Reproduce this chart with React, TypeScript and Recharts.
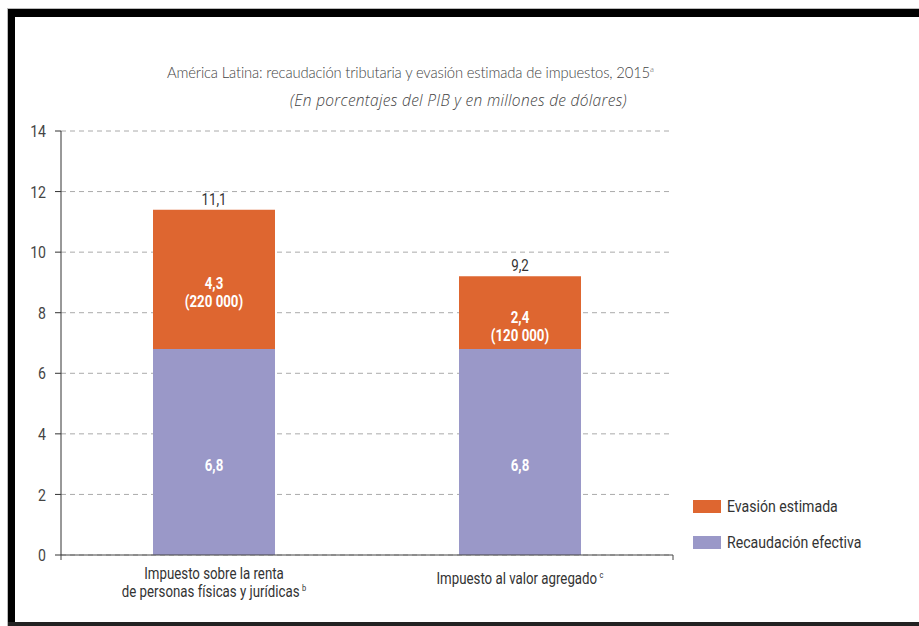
import React from 'react';
import { BarChart, Bar, XAxis, YAxis, CartesianGrid, LabelList } from 'recharts';

const categories = ['renta', 'iva'];
const categoryLine1 = ['Impuesto sobre la renta', 'Impuesto al valor agregado'];
const categoryLine2 = ['de personas físicas y jurídicas', ''];
const categoryNote = ['b', 'c'];

const recaudacion = [6.8, 6.8];
const evasion = [4.6, 2.4];
const recaudacionLabels = ['6,8', '6,8'];
const evasionLabels = ['4,3', '2,4'];
const evasionMillones = ['(220 000)', '(120 000)'];
const totalLabels = ['11,1', '9,2'];

const yTicks = [0, 2, 4, 6, 8, 10, 12, 14];
const edgeTicks = [0, 1, 2];

const seriesNames = ['Evasión estimada', 'Recaudación efectiva'];
const ORANGE = '#DE6630';
const PURPLE = '#9A98C8';
const NARROW = 'Roboto, "Liberation Sans", sans-serif';
const SQUEEZE = 0.83;

const data = categories.map((c, i) => ({
  name: c,
  recaudacion: recaudacion[i],
  evasion: evasion[i],
}));

// texto "condensado": Roboto comprimido en horizontal
const Narrow = ({ x, y, children, ...rest }: any) => (
  <g transform={`translate(${x},${y})`}>
    <text transform={`scale(${SQUEEZE},1)`} fontFamily={NARROW} {...rest}>{children}</text>
  </g>
);

const YTick = (props: any) => {
  const { x, y, payload } = props;
  return <Narrow x={x} y={y} textAnchor="end" dy="0.36em" fontSize={17} fill="#444">{payload.value}</Narrow>;
};

const BaseLabel = (props: any) => {
  const { x, y, width, height, index } = props;
  const cx = x + width / 2;
  const base = y + height;
  const twoLines = categoryLine2[index] !== '';
  return (
    <g>
      <Narrow x={cx} y={y + height / 2 + 19} textAnchor="middle" fill="#fff" fontWeight="bold" fontSize={16}>
        {recaudacionLabels[index]}
      </Narrow>
      {twoLines ? (
        <Narrow x={cx} y={base} textAnchor="middle" fontSize={16} fill="#333">
          <tspan x={0} dy={24}>{categoryLine1[index]}</tspan>
          <tspan x={0} dy={18}>{categoryLine2[index]}</tspan>
          <tspan fontSize={9} dx={3} dy={-6}>{categoryNote[index]}</tspan>
        </Narrow>
      ) : (
        <Narrow x={cx} y={base} textAnchor="middle" fontSize={16} fill="#333">
          <tspan x={0} dy={29}>{categoryLine1[index]}</tspan>
          <tspan fontSize={9} dx={3} dy={-6}>{categoryNote[index]}</tspan>
        </Narrow>
      )}
    </g>
  );
};

const TopLabel = (props: any) => {
  const { x, y, width, height, index } = props;
  const cx = x + width / 2;
  const cy = y + height / 2;
  return (
    <g>
      <Narrow x={cx} y={cy + 10} textAnchor="middle" fill="#fff" fontWeight="bold" fontSize={16}>
        {evasionLabels[index]}
      </Narrow>
      <Narrow x={cx} y={cy + 28} textAnchor="middle" fill="#fff" fontWeight="bold" fontSize={16}>
        {evasionMillones[index]}
      </Narrow>
      <Narrow x={cx} y={y - 5} textAnchor="middle" fill="#333" fontSize={16}>
        {totalLabels[index]}
      </Narrow>
    </g>
  );
};

export default function App() {
  return (
    <div style={{ position: 'absolute', left: 0, top: 0, width: 919, height: 626, background: '#fff', overflow: 'hidden' }}>
      {/* marco negro */}
      <div style={{ position: 'absolute', left: 7, top: 8, width: 912, height: 1, background: '#bbb' }} />
      <div style={{ position: 'absolute', left: 7, top: 8, width: 1, height: 618, background: '#bbb' }} />
      <div style={{ position: 'absolute', left: 8, top: 9, width: 911, height: 8, background: '#000' }} />
      <div style={{ position: 'absolute', left: 8, top: 9, width: 7, height: 617, background: '#000' }} />
      <div style={{ position: 'absolute', left: 8, top: 622, width: 911, height: 4, background: '#222' }} />

      <div style={{ position: 'absolute', left: 167, top: 63, fontFamily: 'Lato, sans-serif', fontWeight: 300, fontSize: 14.8, letterSpacing: -0.15, color: '#444', whiteSpace: 'nowrap' }}>
        América Latina: recaudación tributaria y evasión estimada de impuestos, 2015<sup style={{ fontSize: 8 }}>a</sup>
      </div>
      <div style={{ position: 'absolute', left: 290, top: 89, fontFamily: '"Open Sans", sans-serif', fontWeight: 300, fontStyle: 'italic', fontSize: 15.5, letterSpacing: 0.3, color: '#444', whiteSpace: 'nowrap' }}>
        (En porcentajes del PIB y en millones de dólares)
      </div>

      <div style={{ position: 'absolute', left: 0, top: 0 }}>
        <BarChart width={919} height={626} data={data} margin={{ top: 131, right: 246, bottom: 20, left: 0 }}>
          <CartesianGrid vertical={false} strokeDasharray="5 4" stroke="#aaa" />
          <XAxis dataKey="name" hide height={0} />
          <XAxis xAxisId="edges" type="number" domain={[0, 2]} ticks={edgeTicks} tickFormatter={() => ''}
            tickSize={5} height={51} stroke="#444" />
          <YAxis domain={[0, 14]} ticks={yTicks} interval={0} width={61} tickSize={6} tickMargin={9}
            axisLine={{ stroke: '#333' }} tickLine={{ stroke: '#333' }} tick={<YTick />} />
          <Bar dataKey="recaudacion" stackId="a" fill={PURPLE} barSize={122} isAnimationActive={false} name={seriesNames[1]}>
            <LabelList content={<BaseLabel />} />
          </Bar>
          <Bar dataKey="evasion" stackId="a" fill={ORANGE} barSize={122} isAnimationActive={false} name={seriesNames[0]}>
            <LabelList content={<TopLabel />} />
          </Bar>
        </BarChart>
      </div>

      {/* leyenda */}
      {[ORANGE, PURPLE].map((color, i) => (
        <div key={i} style={{ position: 'absolute', left: 693, top: 496 + i * 36, display: 'flex', alignItems: 'center', whiteSpace: 'nowrap' }}>
          <div style={{ width: 28, height: 13, background: color }} />
          <span style={{ marginLeft: 6, fontFamily: NARROW, fontSize: 17, color: '#333', display: 'inline-block', transform: `scaleX(${SQUEEZE})`, transformOrigin: 'left center' }}>
            {seriesNames[i]}
          </span>
        </div>
      ))}
    </div>
  );
}
